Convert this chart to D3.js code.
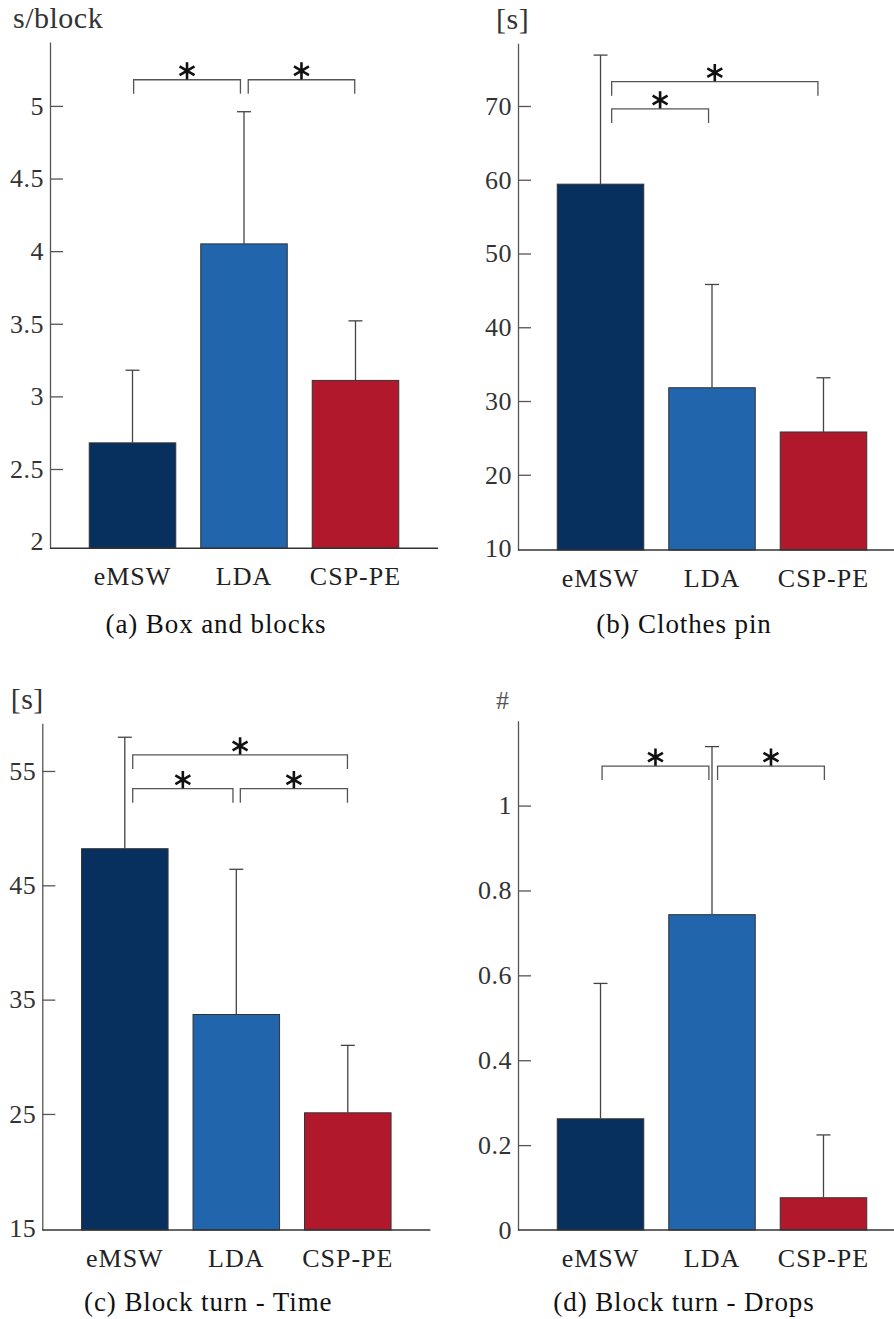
<!DOCTYPE html>
<html>
<head>
<meta charset="utf-8">
<script src="https://cdn.jsdelivr.net/npm/d3@7"></script>
<style>
  body { margin: 0; background: #fff; }
  svg text { font-family: "Liberation Serif", "Times New Roman", serif !important; }
</style>
</head>
<body>
<div id="chart"></div>
<script>
// Categories and colours
var categories = ["eMSW", "LDA", "CSP-PE"];
var barColors = ["#08305e", "#2166ac", "#b2182b"];

// (a) Box and blocks
var boxMean = [2.68, 4.05, 3.11];
var boxSd = [0.50, 0.91, 0.41];
var boxTicks = [2, 2.5, 3, 3.5, 4, 4.5, 5];
// significance brackets: [from index, to index, y value]
var boxSig = [[0.01, 0.968, 5.18], [1.038, 1.993, 5.18]];

// (b) Clothes pin
var pinMean = [59.4, 31.8, 25.8];
var pinSd = [17.5, 14.0, 7.35];
var pinTicks = [10, 20, 30, 40, 50, 60, 70];
var pinSig = [[0.1, 0.969, 69.6], [0.1, 1.95, 73.3]];

// (c) Block turn - Time
var timeMean = [48.2, 33.7, 25.1];
var timeSd = [9.75, 12.7, 5.9];
var timeTicks = [15, 25, 35, 45, 55];
var timeSig = [[0.071, 1.997, 56.4], [0.071, 0.97, 53.45], [1.036, 1.997, 53.45]];

// (d) Block turn - Drops
var dropMean = [0.262, 0.743, 0.076];
var dropSd = [0.319, 0.396, 0.148];
var dropTicks = [0, 0.2, 0.4, 0.6, 0.8, 1];
var dropSig = [[0.014, 0.972, 1.093], [1.05, 2.008, 1.093]];

// Panel layout
var panels = [
  { mean: boxMean, sd: boxSd, ticks: boxTicks, sig: boxSig, domain: [1.954, 5.44],
    left: 50, top: 42, bottom: 548.3, unit: "s/block", unitSize: 30, unitX: 13, unitY: 28,
    caption: "(a) Box and blocks", captionY: 633 },
  { mean: pinMean, sd: pinSd, ticks: pinTicks, sig: pinSig, domain: [9.8, 78.5],
    left: 518, top: 43.3, bottom: 550, unit: "[s]", unitSize: 30, unitX: 496, unitY: 29,
    caption: "(b) Clothes pin", captionY: 633 },
  { mean: timeMean, sd: timeSd, ticks: timeTicks, sig: timeSig, domain: [14.85, 59.17],
    left: 42.3, top: 723.3, bottom: 1230, unit: "[s]", unitSize: 30, unitX: 10.7, unitY: 709,
    caption: "(c) Block turn - Time", captionY: 1311 },
  { mean: dropMean, sd: dropSd, ticks: dropTicks, sig: dropSig, domain: [0, 1.2],
    left: 518, top: 720.7, bottom: 1230, unit: "#", unitSize: 26, unitX: 496, unitY: 709,
    caption: "(d) Block turn - Drops", captionY: 1311 }
];

var svgWidth = 894;
var svgHeight = 1319;
var axisWidth = 388;

var svg = d3.select("#chart").append("svg")
  .attr("width", svgWidth)
  .attr("height", svgHeight);

panels.forEach(function(p) {
  var g = svg.append("g");

  // scales
  var x = d3.scaleBand()
    .domain(categories)
    .range([p.left, p.left + axisWidth])
    .paddingInner(0.224)
    .paddingOuter(0.352);
  var y = d3.scaleLinear().domain(p.domain).range([p.bottom, p.top]);
  var center = d => x(d) + x.bandwidth() / 2;
  var xi = d3.scaleLinear().domain([0, 2])
    .range([center(categories[0]), center(categories[2])]);

  var rows = categories.map((c, i) => ({ cat: c, mean: p.mean[i], sd: p.sd[i], color: barColors[i] }));

  // bars
  g.selectAll("rect.bar").data(rows).enter().append("rect")
    .attr("class", "bar")
    .attr("x", d => x(d.cat))
    .attr("width", x.bandwidth())
    .attr("y", d => y(d.mean))
    .attr("height", d => p.bottom - y(d.mean))
    .attr("fill", d => d.color)
    .attr("stroke", "#333")
    .attr("stroke-width", 1);

  // error bars
  var err = g.selectAll("g.err").data(rows).enter().append("g").attr("class", "err");
  err.append("line")
    .attr("x1", d => center(d.cat)).attr("x2", d => center(d.cat))
    .attr("y1", d => y(d.mean)).attr("y2", d => y(d.mean + d.sd))
    .attr("stroke", "#444").attr("stroke-width", 1.3);
  err.append("line")
    .attr("x1", d => center(d.cat) - 7).attr("x2", d => center(d.cat) + 7)
    .attr("y1", d => y(d.mean + d.sd)).attr("y2", d => y(d.mean + d.sd))
    .attr("stroke", "#444").attr("stroke-width", 1.3);

  // y axis
  var leftAxis = d3.axisLeft(y)
    .tickValues(p.ticks)
    .tickSize(-13)
    .tickSizeOuter(0)
    .tickPadding(6)
    .tickFormat(d3.format("~g"));
  var ya = g.append("g")
    .attr("transform", `translate(${p.left},0)`)
    .call(leftAxis);
  ya.select(".domain").attr("stroke", "#555").attr("stroke-width", 1.3);
  ya.selectAll(".tick line").attr("stroke", "#555").attr("stroke-width", 1.3)
    .filter((d, i) => i === 0).remove();
  ya.selectAll(".tick text")
    .attr("font-size", 26)
    .attr("letter-spacing", 0.5)
    .attr("fill", "#333");

  // x axis line
  g.append("line")
    .attr("x1", p.left).attr("x2", p.left + axisWidth)
    .attr("y1", p.bottom).attr("y2", p.bottom)
    .attr("stroke", "#333").attr("stroke-width", 1.4);

  // category labels
  g.selectAll("text.cat").data(categories).enter().append("text")
    .attr("class", "cat")
    .attr("x", d => center(d))
    .attr("y", p.bottom + 37)
    .attr("text-anchor", "middle")
    .attr("font-size", 26)
    .attr("letter-spacing", 1)
    .attr("fill", "#222")
    .text(d => d);

  // significance brackets
  var sig = g.selectAll("g.sig").data(p.sig).enter().append("g").attr("class", "sig");
  sig.append("path")
    .attr("d", d => {
      var x1 = xi(d[0]), x2 = xi(d[1]), yy = y(d[2]);
      return `M${x1},${yy + 14}V${yy}H${x2}V${yy + 14}`;
    })
    .attr("fill", "none")
    .attr("stroke", "#555")
    .attr("stroke-width", 1.3);
  sig.append("path")
    .attr("d", d3.symbol(d3.symbolAsterisk, 210)())
    .attr("transform", d => `translate(${(xi(d[0]) + xi(d[1])) / 2},${y(d[2]) - 9})`)
    .attr("fill", "none")
    .attr("stroke", "#111")
    .attr("stroke-width", 2.6);

  // unit label
  g.append("text")
    .attr("x", p.unitX)
    .attr("y", p.unitY)
    .attr("font-size", p.unitSize)
    .attr("letter-spacing", 0.5)
    .attr("fill", p.unit === "#" ? "#555" : "#333")
    .text(p.unit);

  // caption
  g.append("text")
    .attr("x", p.left + 166)
    .attr("y", p.captionY)
    .attr("text-anchor", "middle")
    .attr("font-size", 27)
    .attr("letter-spacing", 0.9)
    .attr("fill", "#111")
    .text(p.caption);
});
</script>
</body>
</html>
